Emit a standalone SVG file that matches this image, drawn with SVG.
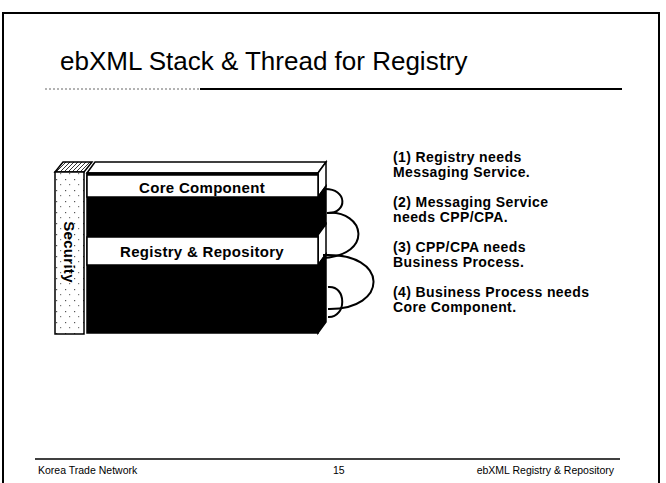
<svg xmlns="http://www.w3.org/2000/svg" width="666" height="483" viewBox="0 0 666 483">
<defs>
<style>
.frame{stroke:#000;stroke-width:2;fill:none}
.title{font-family:"Liberation Sans",Arial,sans-serif;font-size:26px;fill:#000}
.foot{font-family:"Liberation Sans",Arial,sans-serif;font-size:10.5px;fill:#000}
.note{font-family:"Liberation Sans",Arial,sans-serif;font-size:14px;font-weight:bold;letter-spacing:0.4px;fill:#000}
.lbl{font-family:"Liberation Sans",Arial,sans-serif;font-size:15px;font-weight:bold;letter-spacing:0.3px;fill:#000}
.edge{stroke:#000;stroke-width:1.5;fill:#fff}
.blk{fill:#000;stroke:#000;stroke-width:1.5}
.loop{stroke:#000;stroke-width:2;fill:none}
</style>
<pattern id="speck" width="9" height="11" patternUnits="userSpaceOnUse">
<rect width="9" height="11" fill="#fff"/>
<rect x="2" y="3" width="1.2" height="1.2" fill="#555"/>
<rect x="6" y="8" width="1.2" height="1.2" fill="#777"/>
</pattern>
<pattern id="hatch" width="4" height="4" patternUnits="userSpaceOnUse">
<rect width="4" height="4" fill="#fff"/>
<path d="M0,4 L4,0" stroke="#333" stroke-width="1"/>
</pattern>
</defs>
<rect width="666" height="483" fill="#fff"/>
<g id="frame">
<path class="frame" d="M3,483 V13 H659 V483"/>
<text class="title" x="60" y="70">ebXML Stack &amp; Thread for Registry</text>
<line x1="45" y1="89" x2="200" y2="89" stroke="#666" stroke-width="1" stroke-dasharray="2,2"/>
<line x1="200" y1="89" x2="622" y2="89" stroke="#000" stroke-width="2"/>
<line x1="35" y1="459" x2="620" y2="459" stroke="#000" stroke-width="1.5"/>
<text class="foot" x="38" y="474">Korea Trade Network</text>
<text class="foot" x="333" y="474">15</text>
<text class="foot" x="614" y="474" text-anchor="end">ebXML Registry &amp; Repository</text>
</g>
<g id="security">
<polygon class="edge" points="55,172 63,162 92,162 84,172" style="fill:url(#hatch)"/>
<rect class="edge" x="55" y="172" width="29" height="162" style="fill:url(#speck)"/>
<text class="lbl" transform="translate(64,252) rotate(90)" text-anchor="middle" font-size="13">Security</text>
</g>
<g id="stack">
<polygon class="edge" points="87,173 95,162 326,162 318,173"/>
<polygon class="edge" points="318,173 326,162 326,186 318,197"/>
<polygon class="blk" points="318,197 326,186 326,224 318,235"/>
<polygon class="edge" points="318,235 326,224 326,254 318,265"/>
<polygon class="blk" points="318,265 326,254 326,322 318,333"/>
<rect class="blk" x="87" y="173" width="231" height="160"/>
</g>
<g id="core-component">
<rect class="edge" x="87" y="175" width="231" height="22"/>
<text class="lbl" x="202" y="193" text-anchor="middle">Core Component</text>
</g>
<g id="registry-repository">
<rect class="edge" x="87" y="237" width="231" height="28"/>
<text class="lbl" x="202" y="257" text-anchor="middle">Registry &amp; Repository</text>
</g>
<g id="connectors">
<path class="loop" d="M324,189 C348,188 348,214 327,213"/>
<path class="loop" d="M327,213 C365,210 374,255 323,258"/>
<path class="loop" d="M323,255 C390,252 389,310 328,309"/>
<path class="loop" d="M328,287 C347,285 347,318 328,317"/>
</g>
<g id="notes">
<text class="note" x="393" y="162">(1) Registry needs</text>
<text class="note" x="393" y="177">Messaging Service.</text>
<text class="note" x="393" y="207">(2) Messaging Service</text>
<text class="note" x="393" y="222">needs CPP/CPA.</text>
<text class="note" x="393" y="252">(3) CPP/CPA needs</text>
<text class="note" x="393" y="267">Business Process.</text>
<text class="note" x="393" y="297">(4) Business Process needs</text>
<text class="note" x="393" y="312">Core Component.</text>
</g>
</svg>
